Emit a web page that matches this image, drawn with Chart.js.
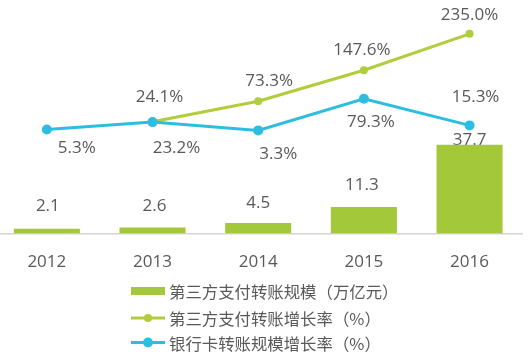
<!DOCTYPE html>
<html><head><meta charset="utf-8">
<script src="https://cdn.jsdelivr.net/npm/chart.js@4/dist/chart.umd.min.js"></script>
<style>
html,body{margin:0;padding:0;background:#fff;overflow:hidden;width:532px;height:355px;position:relative}
#c{position:absolute;left:-7px;top:0}
</style></head>
<body>
<canvas id="c" width="540" height="355" style="width:540px;height:355px"></canvas>
<script>
// ---- data ----
const years = ['2012', '2013', '2014', '2015', '2016'];
const transferScale = [2.1, 2.6, 4.5, 11.3, 37.7];          // 第三方支付转账规模（万亿元）
const thirdPartyGrowth = [null, 24.1, 73.3, 147.6, 235.0];   // 第三方支付转账增长率（%）
const bankCardGrowth = [5.3, 23.2, 3.3, 79.3, 15.3];         // 银行卡转账规模增长率（%）
const seriesNames = ['第三方支付转账规模（万亿元）', '第三方支付转账增长率（%）', '银行卡转账规模增长率（%）'];

// ---- label placement (pixel offsets from each mark) ----
const barLabelOffsets = [[1,-22],[2,-21],[0,-20],[-2,-22],[0,-4]];
const greenLabelOffsets = [[0,0],[7,-25],[11,-20],[-2,-20],[0,-19]];
const blueLabelOffsets = [[30,19],[24,26],[20,24],[7,23],[6,-28]];

const SHIFT = 7;  // canvas is shifted left by this amount
const GREEN_BAR = '#a3c83a';
const GREEN_LINE = '#b0cd3b';
const BLUE = '#2dbde1';
const TEXT = '#595959';

const labelPlugin = {
  id: 'valueLabels',
  beforeDatasetsDraw(chart) {
    const ctx = chart.ctx;
    ctx.save();
    ctx.font = '17px "Open Sans"';
    ctx.fillStyle = TEXT;
    ctx.textAlign = 'center';
    ctx.textBaseline = 'middle';
    chart.getDatasetMeta(0).data.forEach((el, j) => {
      const o = barLabelOffsets[j];
      ctx.fillText(transferScale[j].toFixed(1), el.x + o[0], el.y + o[1]);
    });
    ctx.restore();
  },
  afterDatasetsDraw(chart) {
    const ctx = chart.ctx;
    ctx.save();
    ctx.font = '17px "Open Sans"';
    ctx.fillStyle = TEXT;
    ctx.textAlign = 'center';
    ctx.textBaseline = 'middle';
    chart.getDatasetMeta(1).data.forEach((el, j) => {
      const v = thirdPartyGrowth[j];
      if (v == null) return;
      const o = greenLabelOffsets[j];
      ctx.fillText(v.toFixed(1) + '%', el.x + o[0], el.y + o[1]);
    });
    chart.getDatasetMeta(2).data.forEach((el, j) => {
      const v = bankCardGrowth[j];
      const o = blueLabelOffsets[j];
      ctx.fillText(v.toFixed(1) + '%', el.x + o[0], el.y + o[1]);
    });
    ctx.restore();
  },
  afterDraw(chart) {
    const ctx = chart.ctx;
    ctx.save();
    const x0 = 131 + SHIFT, x1 = 165 + SHIFT, tx = 169 + SHIFT;
    const rows = [291, 318, 342.5];
    ctx.font = '16.4px "Noto Sans CJK SC"';
    ctx.textAlign = 'left';
    ctx.textBaseline = 'middle';
    const ds = chart.data.datasets;
    // bar marker
    ctx.fillStyle = ds[0].backgroundColor;
    ctx.fillRect(x0, rows[0] - 4, x1 - x0, 8);
    // line markers
    [1, 2].forEach((k) => {
      const y = rows[k];
      ctx.strokeStyle = ds[k].borderColor;
      ctx.lineWidth = 3;
      ctx.beginPath(); ctx.moveTo(x0, y); ctx.lineTo(x1, y); ctx.stroke();
      ctx.fillStyle = ds[k].pointBackgroundColor;
      ctx.beginPath(); ctx.arc((x0 + x1) / 2, y, ds[k].pointRadius, 0, Math.PI * 2); ctx.fill();
    });
    ctx.fillStyle = TEXT;
    ds.forEach((d, k) => ctx.fillText(d.label, tx, rows[k] + 1));
    ctx.restore();
  }
};

new Chart(document.getElementById('c'), {
  data: {
    labels: years,
    datasets: [
      { type: 'bar', label: seriesNames[0], data: transferScale, yAxisID: 'y',
        backgroundColor: GREEN_BAR, barPercentage: 0.625, categoryPercentage: 1.0, order: 3 },
      { type: 'line', label: seriesNames[1], data: thirdPartyGrowth, yAxisID: 'y1',
        borderColor: GREEN_LINE, backgroundColor: GREEN_LINE, pointBackgroundColor: GREEN_LINE,
        pointBorderWidth: 0, pointRadius: 4, borderWidth: 3, tension: 0, order: 2 },
      { type: 'line', label: seriesNames[2], data: bankCardGrowth, yAxisID: 'y1',
        borderColor: BLUE, backgroundColor: BLUE, pointBackgroundColor: BLUE,
        pointBorderWidth: 0, pointRadius: 5, borderWidth: 3, tension: 0, order: 1 }
    ]
  },
  options: {
    responsive: false,
    animation: false,
    devicePixelRatio: 1,
    layout: { autoPadding: false, padding: { left: 1, right: 10.6, top: 0, bottom: 65 } },
    plugins: { legend: { display: false }, tooltip: { enabled: false } },
    scales: {
      x: {
        type: 'category',
        grid: { display: false, drawTicks: false },
        border: { display: true, color: '#d4d4d4', width: 1.5 },
        ticks: { color: TEXT, font: { family: 'Open Sans', size: 17, lineHeight: 1.2 }, padding: 18 }
      },
      y: { display: false, min: 0, max: 99 },
      y1: { display: false, min: -244.4, max: 316.3 }
    }
  },
  plugins: [labelPlugin]
});
</script>
</body></html>
